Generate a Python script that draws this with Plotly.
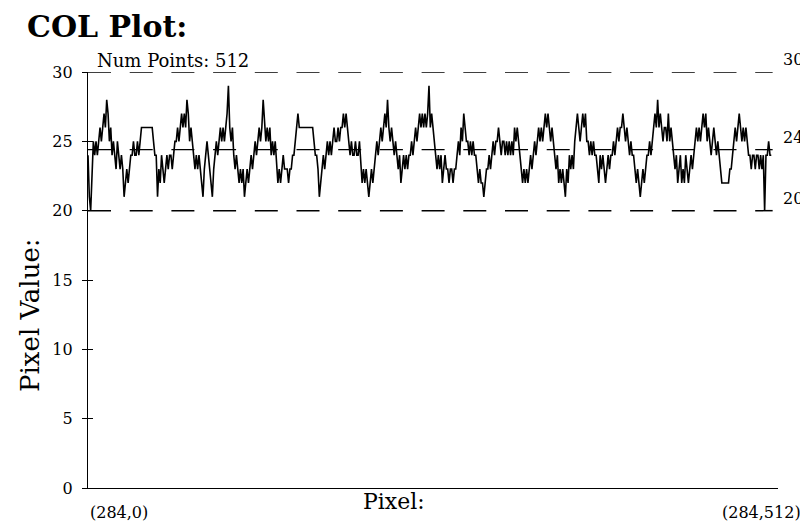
import plotly.graph_objects as go

# ---- data ----
NUM_POINTS = 512
pixel_values = [
    24, 21, 20, 22,
    25, 24, 25, 24, 25,
    26, 25, 26, 27, 26, 28, 27,
    25, 26, 24, 25, 24, 23, 25, 24, 23, 24, 23,
    21, 22, 23, 22, 23,
    24, 24, 25, 24, 24, 25, 24, 25,
    26, 26, 26, 26, 26, 26, 26, 26, 26,
    25, 24, 24,
    21, 23, 22, 24, 23, 22, 23, 24,
    23, 24, 24, 23, 24, 25,
    25, 26, 25, 26, 27, 26,
    27, 26, 28, 27, 25, 26, 25, 24,
    23, 24, 23, 24, 23, 22, 21,
    23, 24, 25, 24, 23,
    22, 21, 23, 24, 25,
    24, 25, 26, 25, 26, 25, 26, 27, 29, 26, 25, 26, 24,
    23, 24, 23, 22, 23, 22, 23, 21, 22, 23, 22, 23, 24, 23, 24,
    25, 24, 25, 26, 25, 26, 28, 26, 25, 26, 25, 26, 24, 25, 24, 25, 23,
    22, 23, 22, 23, 24,
    23, 23, 23, 22, 23, 23, 24, 24, 25,
    26, 27, 26, 26,
    26, 26, 26, 26, 26, 26, 26, 26, 26, 25,
    24, 24, 23, 21, 22, 23, 24,
    23, 24, 25, 24, 25,
    24, 25, 26, 25, 25, 26, 25, 26,
    26, 27, 26, 27, 26, 25, 24,
    25, 24, 24, 25, 24, 24, 25, 23,
    22, 23, 22, 23, 22, 21, 22, 23, 22, 23,
    24, 25, 24, 25, 26, 25, 26,
    27, 26, 28,
    26, 25, 26, 25, 24, 25, 24,
    23, 24, 22, 23, 24, 23, 24, 23, 24, 24,
    25, 24, 25, 26, 25, 26, 27, 26,
    27, 26, 27, 26, 27, 29, 26, 27, 26, 25,
    24, 23, 24, 23, 24, 22, 23, 24, 23, 23,
    22, 23, 23, 22, 23, 23, 24,
    25, 24, 26, 25, 27, 26, 25, 25,
    24, 25, 24, 25, 24, 24, 23,
    22, 23, 22, 22, 21, 22, 23, 23,
    24, 23, 24, 25, 24, 25, 25,
    26, 25, 24, 25, 25,
    24, 25, 24, 25, 24, 25, 24, 26,
    25, 26, 25, 24, 23,
    22, 23, 22, 23, 22, 23, 24,
    23, 24, 25, 24, 25, 26, 25, 26,
    25, 26, 27, 26, 27, 26, 25, 26, 25, 24,
    23, 24, 22, 23, 22, 23, 22, 21, 23, 22, 24, 23, 24, 23, 25,
    26, 27, 26, 25, 26, 27, 26, 27, 25, 25,
    24, 25, 24, 25, 24, 24, 23,
    22, 24, 23, 24, 23, 22, 23, 24, 23, 24, 24,
    25, 24, 25, 26, 25, 26, 26, 27, 26, 25,
    26, 25, 24, 25, 24, 24, 23,
    22, 23, 22, 21, 22, 23, 22, 23, 24, 24,
    25, 24, 25, 26, 27,
    26, 28, 26, 27, 26, 25, 26, 26,
    25, 27, 25, 26, 25, 24,
    23, 24, 22, 23, 24, 22, 23, 22, 24, 23, 22, 23, 24, 23, 24,
    25, 26, 25, 26, 25, 26, 27, 26, 27, 25,
    26, 25, 24, 25, 26, 25, 24, 25, 24, 23,
    22, 22, 22, 22, 22, 22, 23, 23, 24,
    25, 26, 25, 26, 27, 26,
    25, 26, 25, 26, 25, 24,
    24, 23, 24, 24, 23, 24, 24, 23, 24,
    23, 24, 20, 24, 24,
    25, 24, 24,
]
pixel_index = list(range(NUM_POINTS))

y_ticks = [0, 5, 10, 15, 20, 25, 30]
y_tick_labels = ["0", "5", "10", "15", "20", "25", "30"]
upper_limit = 30
lower_limit = 20
mean_value = 24.4
mean_label = "24"
start_label = "(284,0)"
end_label = "(284,512)"

FONT = "DejaVu Serif"
DASH = "23px,18.7px"

fig = go.Figure()
fig.add_trace(go.Scatter(
    x=pixel_index, y=pixel_values, mode="lines",
    line=dict(color="black", width=1.6), showlegend=False, hoverinfo="skip",
))
# invisible trace on the second y axis so its inside ticks are drawn
fig.add_trace(go.Scatter(x=[0], y=[0], yaxis="y2", mode="markers",
                         marker=dict(opacity=0), showlegend=False, hoverinfo="skip"))

for lvl, w in [(upper_limit, 1.5), (lower_limit, 1.5), (mean_value, 1.3)]:
    fig.add_shape(type="line", xref="x", yref="y", x0=0, x1=NUM_POINTS, y0=lvl, y1=lvl,
                  line=dict(color="black", width=w, dash=DASH))

ann = []
ann.append(dict(text="Num Points: %d" % NUM_POINTS, xref="x", yref="y", x=5.2, y=upper_limit,
                xanchor="left", yanchor="bottom", yshift=-1, showarrow=False,
                font=dict(family=FONT, size=18, color="black")))
for lvl, lab in [(upper_limit, str(upper_limit)), (mean_value, mean_label), (lower_limit, str(lower_limit))]:
    ann.append(dict(text=lab, xref="paper", yref="y", x=1.005, y=lvl, xanchor="left",
                    yanchor="bottom", yshift=1, showarrow=False,
                    font=dict(family=FONT, size=16, color="black")))
ann.append(dict(text="Pixel Value:", xref="paper", yref="paper", x=-0.084, y=0.416,
                xanchor="center", yanchor="middle", textangle=-90, showarrow=False,
                font=dict(family=FONT, size=26, color="black")))
ann.append(dict(text="Pixel:", xref="paper", yref="paper", x=0.443, y=-0.032,
                xanchor="center", yanchor="middle", showarrow=False,
                font=dict(family=FONT, size=22, color="black")))
ann.append(dict(text=start_label, xref="paper", yref="paper", x=0.0, y=-0.060,
                xanchor="left", yanchor="middle", showarrow=False,
                font=dict(family=FONT, size=16, color="black")))
ann.append(dict(text=end_label, xref="paper", yref="paper", x=1.036, y=-0.060,
                xanchor="right", yanchor="middle", showarrow=False,
                font=dict(family=FONT, size=16, color="black")))

# the page body adds an 8px offset, so the figure is 8px smaller and shifted
fig.update_layout(
    width=800, height=515,
    margin=dict(l=80, r=30, t=64, b=35, pad=0),
    paper_bgcolor="white", plot_bgcolor="white",
    title=dict(text="<b>COL Plot:</b>", x=19 / 800, xanchor="left", y=0.9845, yanchor="top",
               font=dict(family=FONT, size=30, color="black")),
    xaxis=dict(range=[0, 516], showgrid=False, zeroline=False, showticklabels=False,
               ticks="", showline=True, linecolor="black", linewidth=1.2),
    yaxis=dict(range=[0, 30], tickvals=y_ticks, ticktext=y_tick_labels, ticks="outside",
               ticklen=5, tickwidth=1, tickcolor="black", showgrid=False, zeroline=False,
               showline=True, linecolor="black", linewidth=1.2, ticklabelstandoff=6,
               tickfont=dict(family=FONT, size=16, color="black")),
    yaxis2=dict(range=[0, 30], overlaying="y", side="left", tickvals=y_ticks, ticks="inside",
                ticklen=5, tickwidth=1, tickcolor="black", showticklabels=False,
                showgrid=False, zeroline=False, showline=False),
    annotations=ann,
)

fig.write_html("out.html")
